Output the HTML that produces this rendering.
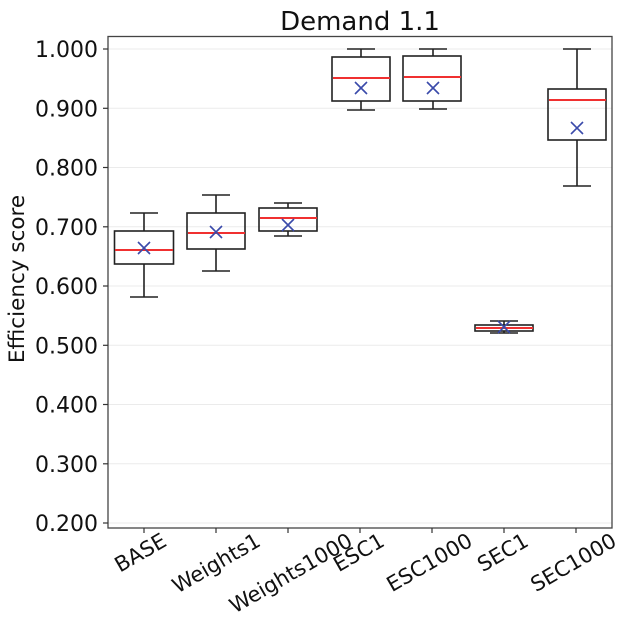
<!DOCTYPE html>
<html><head><meta charset="utf-8"><style>html,body{margin:0;padding:0;background:#fff}</style></head>
<body>
<svg width="634" height="638" xmlns="http://www.w3.org/2000/svg" font-family="'DejaVu Sans','Liberation Sans',sans-serif">
<rect width="634" height="638" fill="#fff"/>
<text x="360" y="30" font-size="26" text-anchor="middle" fill="#111">Demand 1.1</text>
<g stroke="#ebebeb" stroke-width="1">
<line x1="108" x2="612" y1="49" y2="49"/><line x1="108" x2="612" y1="108.3" y2="108.3"/>
<line x1="108" x2="612" y1="167.5" y2="167.5"/><line x1="108" x2="612" y1="226.8" y2="226.8"/>
<line x1="108" x2="612" y1="286" y2="286"/><line x1="108" x2="612" y1="345.3" y2="345.3"/>
<line x1="108" x2="612" y1="404.5" y2="404.5"/><line x1="108" x2="612" y1="463.8" y2="463.8"/>
<line x1="108" x2="612" y1="523" y2="523"/>
</g>
<rect x="108" y="36.5" width="504" height="491.5" fill="none" stroke="#444" stroke-width="1.3"/>
<g stroke="#333" stroke-width="1.2">
<line x1="103" x2="108" y1="49" y2="49"/><line x1="103" x2="108" y1="108.3" y2="108.3"/>
<line x1="103" x2="108" y1="167.5" y2="167.5"/><line x1="103" x2="108" y1="226.8" y2="226.8"/>
<line x1="103" x2="108" y1="286" y2="286"/><line x1="103" x2="108" y1="345.3" y2="345.3"/>
<line x1="103" x2="108" y1="404.5" y2="404.5"/><line x1="103" x2="108" y1="463.8" y2="463.8"/>
<line x1="103" x2="108" y1="523" y2="523"/>
<line x1="144" x2="144" y1="528" y2="533"/><line x1="216" x2="216" y1="528" y2="533"/>
<line x1="288" x2="288" y1="528" y2="533"/><line x1="360" x2="360" y1="528" y2="533"/>
<line x1="432" x2="432" y1="528" y2="533"/><line x1="504" x2="504" y1="528" y2="533"/>
<line x1="576" x2="576" y1="528" y2="533"/>
</g>
<g font-size="22" text-anchor="end" fill="#111">
<text x="98" y="57">1.000</text><text x="98" y="116.3">0.900</text><text x="98" y="175.5">0.800</text>
<text x="98" y="234.8">0.700</text><text x="98" y="294">0.600</text><text x="98" y="353.3">0.500</text>
<text x="98" y="412.5">0.400</text><text x="98" y="471.8">0.300</text><text x="98" y="531">0.200</text>
</g>
<text transform="translate(24,279) rotate(-90)" font-size="21.5" text-anchor="middle" fill="#111">Efficiency score</text>
<g font-size="21" text-anchor="end" fill="#111">
<text transform="translate(168,545) rotate(-30)">BASE</text>
<text transform="translate(262,545) rotate(-30)">Weights1</text>
<text transform="translate(354,545) rotate(-30)">Weights1000</text>
<text transform="translate(386,545) rotate(-30)">ESC1</text>
<text transform="translate(474,545) rotate(-30)">ESC1000</text>
<text transform="translate(530,545) rotate(-30)">SEC1</text>
<text transform="translate(618,545) rotate(-30)">SEC1000</text>
</g>
<g fill="none" stroke="#222" stroke-width="1.6">
<line x1="144" x2="144" y1="213" y2="231"/><line x1="144" x2="144" y1="264" y2="297"/>
<line x1="130" x2="158" y1="213" y2="213"/><line x1="130" x2="158" y1="297" y2="297"/>
<rect x="114.5" y="231" width="59" height="33"/>
<line x1="216" x2="216" y1="195" y2="213"/><line x1="216" x2="216" y1="249" y2="271"/>
<line x1="202" x2="230" y1="195" y2="195"/><line x1="202" x2="230" y1="271" y2="271"/>
<rect x="187" y="213" width="58" height="36"/>
<line x1="288" x2="288" y1="203" y2="208"/><line x1="288" x2="288" y1="231" y2="236"/>
<line x1="274" x2="302" y1="203" y2="203"/><line x1="274" x2="302" y1="236" y2="236"/>
<rect x="259" y="208" width="58" height="23"/>
<line x1="361" x2="361" y1="49" y2="57"/><line x1="361" x2="361" y1="101" y2="110"/>
<line x1="347" x2="375" y1="49" y2="49"/><line x1="347" x2="375" y1="110" y2="110"/>
<rect x="332" y="57" width="58" height="44"/>
<line x1="433" x2="433" y1="49" y2="56"/><line x1="433" x2="433" y1="101" y2="109"/>
<line x1="419" x2="447" y1="49" y2="49"/><line x1="419" x2="447" y1="109" y2="109"/>
<rect x="403" y="56" width="58" height="45"/>
<line x1="490" x2="518" y1="321" y2="321"/><line x1="490" x2="518" y1="333" y2="333"/>
<line x1="504" x2="504" y1="321" y2="325"/><line x1="504" x2="504" y1="331" y2="333"/>
<rect x="475" y="325" width="58" height="6"/>
<line x1="577" x2="577" y1="49" y2="89"/><line x1="577" x2="577" y1="140" y2="186"/>
<line x1="563" x2="591" y1="49" y2="49"/><line x1="563" x2="591" y1="186" y2="186"/>
<rect x="548" y="89" width="58" height="51"/>
</g>
<g stroke="#f03030" stroke-width="2">
<line x1="115" x2="173" y1="250" y2="250"/>
<line x1="188" x2="245" y1="233" y2="233"/>
<line x1="260" x2="317" y1="218" y2="218"/>
<line x1="333" x2="390" y1="78" y2="78"/>
<line x1="404" x2="461" y1="77" y2="77"/>
<line x1="476" x2="533" y1="328" y2="328"/>
<line x1="549" x2="606" y1="100" y2="100"/>
</g>
<g stroke="#3a4aaa" stroke-width="1.6">
<path d="M138,242l12,12M150,242l-12,12"/>
<path d="M210,226l12,12M222,226l-12,12"/>
<path d="M282,219l12,12M294,219l-12,12"/>
<path d="M355,82l12,12M367,82l-12,12"/>
<path d="M427,82l12,12M439,82l-12,12"/>
<path d="M498,321l12,12M510,321l-12,12"/>
<path d="M571,122l12,12M583,122l-12,12"/>
</g>
</svg>
</body></html>
